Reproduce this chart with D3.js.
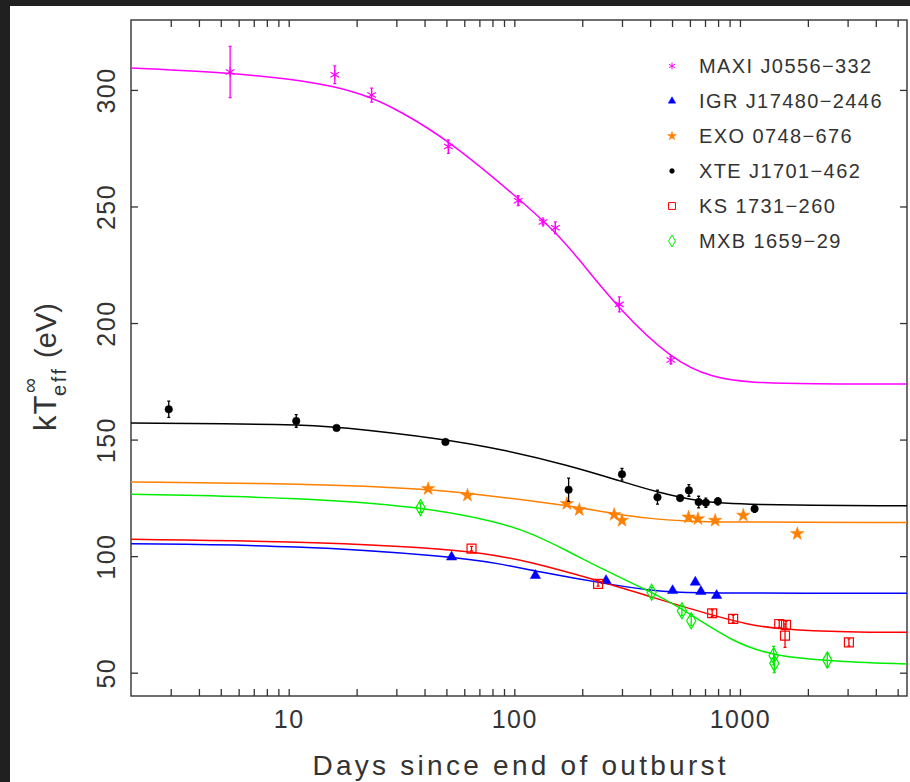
<!DOCTYPE html>
<html>
<head>
<meta charset="utf-8">
<script src="https://cdn.jsdelivr.net/npm/d3@7"></script>
<style>
  html, body { margin: 0; padding: 0; background: #202020; }
  svg { display: block; }
  text { font-family: "Liberation Sans", "DejaVu Sans", sans-serif; fill: #333; }
</style>
</head>
<body>
<svg id="chart"></svg>
<script>
/* CONSTANTS AND GLOBALS */
const width = 910,
  height = 782,
  margin = { top: 20, bottom: 86, left: 131, right: 3 };

const seriesNames = ["MAXI J0556\u2212332", "IGR J17480\u22122446", "EXO 0748\u2212676",
  "XTE J1701\u2212462", "KS 1731\u2212260", "MXB 1659\u221229"];

// measured points: [days, kT (eV), error]
const maxiPoints = [[5.5, 307.7, 11], [16, 306.5, 3.8], [23.3, 297.8, 3], [51, 275.7, 2.9],
  [104, 252.5, 2.1], [134, 243.3, 1.2], [152, 240.9, 2.5], [292, 208.0, 3.2], [494, 184.1, 1.5]];
const igrPoints = [[52.7, 99.6, 0], [124, 91.7, 0], [255, 89.5, 0], [503, 85.2, 0],
  [634, 88.8, 0], [671, 84.8, 0], [788, 83.1, 0]];
const exoPoints = [[41.5, 128.9, 0], [62, 126.1, 0], [171, 122.5, 0], [194, 119.9, 0],
  [277, 117.8, 0], [300, 115.3, 0], [592, 116.7, 0], [651, 116.0, 0], [776, 115.3, 0],
  [1034, 117.5, 0], [1795, 109.6, 0]];
const xtePoints = [[2.94, 163.0, 3.5], [10.8, 158.0, 2.7], [16.3, 155.0, 0.8], [49.5, 149.0, 0.8],
  [174, 128.5, 5], [300, 135.1, 2.5], [431, 125.3, 3], [543, 124.9, 1], [594, 128.2, 2.5],
  [656, 123.2, 2.5], [706, 122.9, 2], [798, 123.5, 1.5], [1161, 120.3, 1.5]];
const ksPoints = [[64.6, 103.2, 1], [235, 88.1, 1], [753, 75.5, 1.5], [933, 73.1, 1.5],
  [1493, 70.9, 1.5], [1600, 70.5, 1.5], [1584, 65.9, 5], [3040, 63.0, 1.5]];
const mxbPoints = [[38.4, 120.8, 2], [406, 84.5, 2], [553, 76.6, 2], [608, 72.3, 2],
  [1410, 57.3, 4], [1420, 54.0, 4], [2438, 55.4, 3]];

// cooling curves: [days, kT (eV)]
const maxiCurve = [[2, 309.4], [5.5, 307.3], [10, 304.8], [16, 301.6], [23.3, 296.8], [31, 291.0],
  [51, 278.5], [104, 253.6], [152, 239.2], [195, 227.0], [292, 205.8], [494, 184.5],
  [758, 176.3], [1134, 174.4], [2000, 173.9], [5500, 173.8]];
const igrCurve = [[2, 105.3], [11, 104.6], [52.7, 99.9], [86, 96.8], [124, 93.6],
  [255, 88.1], [406, 85.2], [503, 84.5], [1000, 84.1], [5500, 84.1]];
const exoCurve = [[2, 131.8], [12, 131.1], [41.5, 128.9], [86, 125.4], [171, 121.8], [276, 118.2],
  [400, 116.0], [592, 115.0], [776, 114.6], [5500, 114.4]];
const xteCurve = [[2, 157.1], [10.8, 156.6], [16.3, 155.6], [49.5, 150.2], [86, 146.0],
  [174, 139.0], [300, 132.0], [431, 127.4], [656, 123.4], [1000, 122.0], [5500, 121.6]];
const ksCurve = [[2, 107.2], [10.8, 106.4], [64.6, 102.8], [117, 97.6], [234, 89.6],
  [406, 82.4], [752, 74.6], [1100, 70.6], [1493, 68.6], [3040, 67.3], [5500, 67.3]];
const mxbCurve = [[2, 126.5], [10.8, 125.2], [38.4, 121.3], [86, 114.6], [121, 109.5],
  [174, 102.0], [239, 95.0], [406, 84.5], [553, 77.6], [931, 63.0], [1416, 57.2], [2438, 55.0],
  [5500, 53.7]];

const xDomain = [2, 5500];
const yDomain = [40, 330];
const xTickLabels = [10, 100, 1000];
const xMinorTicks = [3, 4, 5, 6, 7, 8, 9, 20, 30, 40, 50, 60, 70, 80, 90,
  200, 300, 400, 500, 600, 700, 800, 900, 2000, 3000, 4000, 5000];
const yTickValues = [50, 100, 150, 200, 250, 300];

const series = [
  { name: seriesNames[0], points: maxiPoints, curve: maxiCurve, color: "#ff00ff", symbol: d3.symbolAsterisk, size: 70, legendSize: 32, fill: false },
  { name: seriesNames[1], points: igrPoints, curve: igrCurve, color: "#0000ff", symbol: d3.symbolTriangle, size: 46, legendSize: 24, fill: true },
  { name: seriesNames[2], points: exoPoints, curve: exoCurve, color: "#ff7f00", symbol: d3.symbolStar, size: 56, legendSize: 24, fill: true },
  { name: seriesNames[3], points: xtePoints, curve: xteCurve, color: "#000000", symbol: d3.symbolCircle, size: 45, legendSize: 18, fill: true },
  { name: seriesNames[4], points: ksPoints, curve: ksCurve, color: "#ff0000", symbol: d3.symbolSquare, size: 80, legendSize: 48, fill: false },
  { name: seriesNames[5], points: mxbPoints, curve: mxbCurve, color: "#00ee00", symbol: d3.symbolDiamond, size: 74, legendSize: 42, fill: false }
];

const svg = d3.select("#chart").attr("width", width).attr("height", height);

// white page inside the dark frame
svg.append("rect").attr("x", 10).attr("y", 6).attr("width", width - 10).attr("height", height - 6).attr("fill", "#fff");

/* SCALES */
const xScale = d3.scaleLog().domain(xDomain).range([margin.left, width - margin.right]);
const yScale = d3.scaleLinear().domain(yDomain).range([height - margin.bottom, margin.top]);

const plotW = width - margin.right - margin.left;
const plotH = height - margin.bottom - margin.top;

svg.append("clipPath").attr("id", "clip")
  .append("rect").attr("x", margin.left).attr("y", margin.top).attr("width", plotW).attr("height", plotH);

/* AXES */
const allXTicks = xTickLabels.concat(xMinorTicks);
const fmtX = d => xTickLabels.includes(d) ? d3.format("d")(d) : "";

function styleAxis(g) {
  g.select(".domain").remove();
  g.selectAll("line").attr("stroke", "#333").attr("stroke-width", 1.3);
  g.selectAll("text").style("font-family", "Liberation Sans, sans-serif").attr("fill", "#333")
    .style("font-size", "25px").style("letter-spacing", "1.5px");
}

svg.append("g")
  .attr("transform", `translate(0,${height - margin.bottom})`)
  .call(d3.axisBottom(xScale).tickValues(allXTicks).tickFormat(fmtX).tickSize(-7))
  .call(styleAxis)
  .call(g => g.selectAll("text").attr("dy", null).attr("y", 32));

svg.append("g")
  .attr("transform", `translate(0,${margin.top})`)
  .call(d3.axisTop(xScale).tickValues(allXTicks).tickFormat("").tickSize(-7))
  .call(styleAxis);

svg.append("g")
  .attr("transform", `translate(${margin.left},0)`)
  .call(d3.axisLeft(yScale).tickValues(yTickValues).tickSize(-7))
  .call(styleAxis)
  .call(g => g.selectAll("text")
    .attr("x", null).attr("dy", null)
    .attr("text-anchor", "middle")
    .attr("transform", "translate(-16,0) rotate(-90)"));

svg.append("g")
  .attr("transform", `translate(${width - margin.right},0)`)
  .call(d3.axisRight(yScale).tickValues(yTickValues).tickFormat("").tickSize(-7))
  .call(styleAxis);

// frame
svg.append("rect")
  .attr("x", margin.left).attr("y", margin.top).attr("width", plotW).attr("height", plotH)
  .attr("fill", "none").attr("stroke", "#333").attr("stroke-width", 1.4);

/* AXIS TITLES */
svg.append("text")
  .attr("x", 519).attr("y", 775)
  .attr("text-anchor", "middle")
  .attr("textLength", 413).attr("lengthAdjust", "spacing")
  .style("font-size", "28px")
  .text("Days since end of outburst");

const yTitle = svg.append("g").attr("transform", "translate(56,366) rotate(-90)");
yTitle.append("text").attr("x", -65).attr("y", 0)
  .style("font-size", "31px").style("letter-spacing", "1px").text("kT");
yTitle.append("text").attr("x", -27).attr("y", -19)
  .style("font-size", "21px").text("\u221e");
yTitle.append("text").attr("x", -30).attr("y", 10)
  .attr("textLength", 27).attr("lengthAdjust", "spacing")
  .style("font-size", "20px").text("eff");
yTitle.append("text").attr("x", 8).attr("y", 0)
  .attr("textLength", 55).attr("lengthAdjust", "spacing")
  .style("font-size", "29px").text("(eV)");

/* CURVES */
const line = d3.line()
  .x(d => xScale(d[0]))
  .y(d => yScale(d[1]))
  .curve(d3.curveBasis);

const plot = svg.append("g").attr("clip-path", "url(#clip)");

plot.selectAll("path.fit")
  .data(series)
  .join("path")
  .attr("class", "fit")
  .attr("d", d => line(d.curve))
  .attr("fill", "none")
  .attr("stroke", d => d.color)
  .attr("stroke-width", 1.5);

/* POINTS */
series.forEach(s => {
  const g = plot.append("g");
  // error bars
  g.selectAll("path.err")
    .data(s.points.filter(p => p[2] > 0))
    .join("path")
    .attr("class", "err")
    .attr("d", p => {
      const x = xScale(p[0]), y0 = yScale(p[1] - p[2]), y1 = yScale(p[1] + p[2]);
      return `M${x},${y0}V${y1}M${x - 1.5},${y0}H${x + 1.5}M${x - 1.5},${y1}H${x + 1.5}`;
    })
    .attr("stroke", s.color)
    .attr("stroke-width", 1.3)
    .attr("fill", "none");
  // markers
  g.selectAll("path.mark")
    .data(s.points)
    .join("path")
    .attr("class", "mark")
    .attr("transform", p => `translate(${xScale(p[0])},${yScale(p[1])})`)
    .attr("d", d3.symbol().type(s.symbol).size(s.size))
    .attr("fill", s.fill ? s.color : "none")
    .attr("stroke", s.color)
    .attr("stroke-width", s.fill ? 0.5 : 1.2);
});

/* LEGEND */
const legend = svg.append("g")
  .selectAll("g")
  .data(series)
  .join("g")
  .attr("transform", (d, i) => `translate(672,${66 + i * 35})`);

legend.append("path")
  .attr("d", d => d3.symbol().type(d.symbol).size(d.legendSize)())
  .attr("fill", d => d.fill ? d.color : "none")
  .attr("stroke", d => d.color)
  .attr("stroke-width", d => d.fill ? 0.5 : 1);

legend.append("text")
  .attr("x", 27).attr("y", 7)
  .style("font-size", "20px")
  .style("letter-spacing", "1.4px")
  .text(d => d.name);
</script>
</body>
</html>
